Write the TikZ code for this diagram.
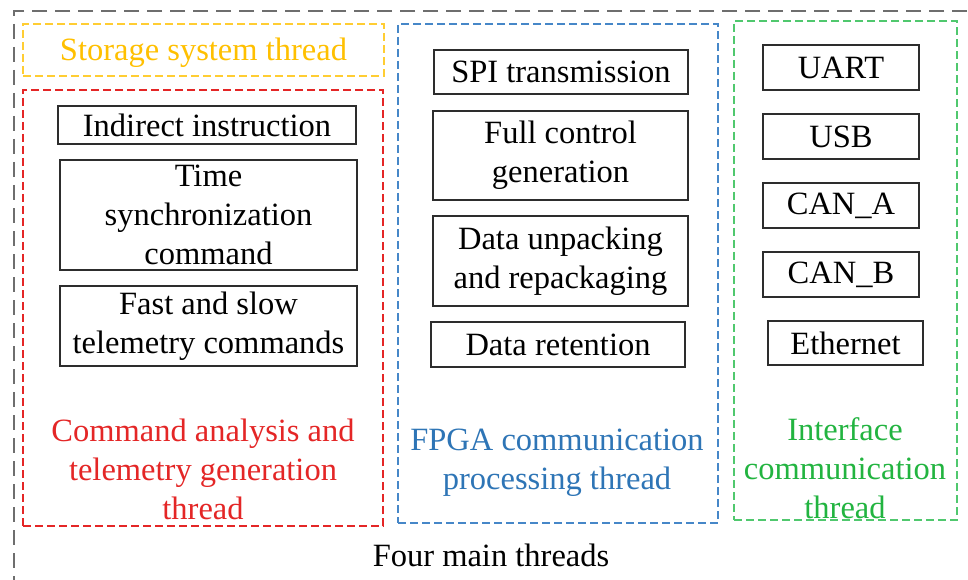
\documentclass[tikz,border=0pt]{standalone}
\usepackage{fontspec}
\setmainfont{Liberation Serif}
\definecolor{ygold}{RGB}{255,192,0}
\definecolor{rred}{RGB}{228,38,38}
\definecolor{bblue}{RGB}{46,117,182}
\definecolor{ggreen}{RGB}{34,180,64}
\definecolor{gline}{RGB}{80,200,110}
\definecolor{bline}{RGB}{70,135,200}
\definecolor{outergray}{RGB}{110,110,110}
\definecolor{boxline}{RGB}{45,45,45}
\tikzset{
  txt/.style={font=\fontsize{32.5}{39}\selectfont, align=center, inner sep=0pt},
  itembox/.style={txt, draw=boxline, line width=1.2pt, rectangle},
  region/.style={line width=1.3pt, dash pattern=on 8pt off 4pt, rectangle, inner sep=0pt},
}
\begin{document}
\begin{tikzpicture}[x=1pt,y=-1pt]
\useasboundingbox[fill=white] (0,0) rectangle (968,580);
\clip (0,0) rectangle (968,580);
% outer frame
\coordinate (otr) at (990,11);
\coordinate (otl) at (14,11);
\coordinate (obl) at (14,600);
\draw[outergray, line width=2pt, dash pattern=on 15pt off 8pt] (otr) -- (otl) -- (obl);
% regions
\node[region, draw=ygold!80!white, minimum width=361, minimum height=52] (stor) at (203.5,50) {};
\node[txt, text=ygold] (storlbl) at (203.5,53) {Storage system thread};
\node[region, draw=rred, minimum width=360, minimum height=436] (cmdreg) at (203,308) {};
\node[region, draw=bline, minimum width=320, minimum height=499] (fpgareg) at (558,273.5) {};
\node[region, draw=gline, minimum width=223, minimum height=499] (ifreg) at (845.5,270.5) {};
% left column
\node[itembox, minimum width=298, minimum height=38] (ind) at (207,125) {Indirect instruction};
\node[itembox, minimum width=297, minimum height=110] (time) at (208.5,215) {Time\\synchronization\\command};
\node[itembox, minimum width=297, minimum height=80] (fast) at (208.5,326) {Fast and slow\\telemetry commands};
\node[txt, text=rred] (cmdlbl) at (203,469.5) {Command analysis and\\telemetry generation\\thread};
% middle column
\node[itembox, minimum width=254, minimum height=44] (spi) at (561,72) {SPI transmission};
\node[itembox, minimum width=255, minimum height=89] (full) at (560.5,155.5) {Full control\\generation};
\node[itembox, minimum width=255, minimum height=90] (unpack) at (560.5,261) {Data unpacking\\and repackaging};
\node[itembox, minimum width=254, minimum height=45] (ret) at (558,344.5) {Data retention};
\node[txt, text=bblue] (fpgalbl) at (557,462.5) {FPGA communication\\processing thread};
% right column
\node[itembox, minimum width=156, minimum height=45] (uart) at (841,67.5) {UART};
\node[itembox, minimum width=156, minimum height=45] (usb) at (841,136.5) {USB};
\node[itembox, minimum width=156, minimum height=45] (cana) at (841,205.5) {CAN\_A};
\node[itembox, minimum width=156, minimum height=45] (canb) at (841,274.5) {CAN\_B};
\node[itembox, minimum width=155, minimum height=44] (eth) at (845.5,343) {Ethernet};
\node[txt, text=ggreen] (iflbl) at (845,468) {Interface\\communication\\thread};
% caption
\node[txt] (cap) at (491,555) {Four main threads};
\end{tikzpicture}
\end{document}
